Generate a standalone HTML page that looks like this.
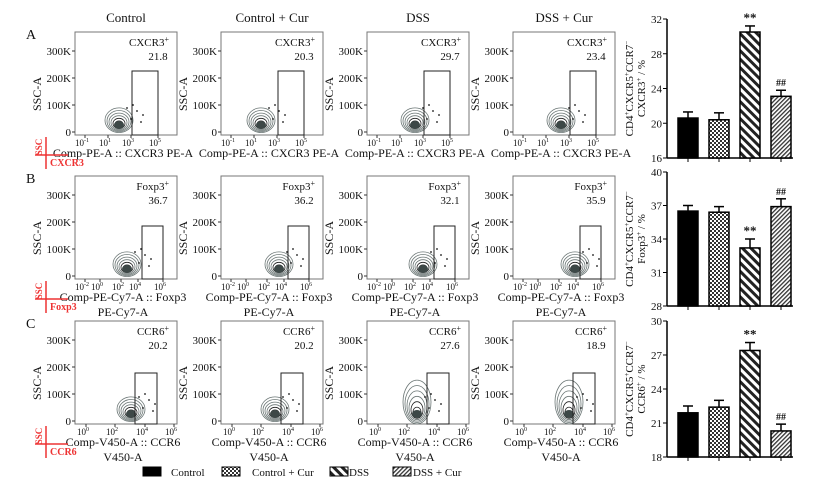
<!DOCTYPE html>
<html><head><meta charset="utf-8"><style>
body{margin:0;background:#fff}
svg text{font-family:"Liberation Serif",serif;fill:#111}
</style></head><body>
<svg id="fig" width="818" height="480" viewBox="0 0 818 480" xmlns="http://www.w3.org/2000/svg">
<defs>
<pattern id="p-check" width="4" height="4" patternUnits="userSpaceOnUse"><rect width="4" height="4" fill="#fff"/><rect width="2" height="2" fill="#333"/><rect x="2" y="2" width="2" height="2" fill="#333"/></pattern>
<pattern id="p-dss" width="6" height="6" patternUnits="userSpaceOnUse" patternTransform="rotate(-45)"><rect width="6" height="6" fill="#fff"/><rect width="3" height="6" fill="#222"/></pattern>
<pattern id="p-dsscur" width="3" height="3" patternUnits="userSpaceOnUse" patternTransform="rotate(45)"><rect width="3" height="3" fill="#fff"/><rect width="1.3" height="3" fill="#333"/></pattern>
</defs>
<g id="flow"></g>
<g id="bars"></g>
<g id="legend"></g>
</svg>
<script>
const NS="http://www.w3.org/2000/svg";
const groups=["Control","Control + Cur","DSS","DSS + Cur"];
const markers=["CXCR3","Foxp3","CCR6"];
const flowPct=[[21.8,20.3,29.7,23.4],[36.7,36.2,32.1,35.9],[20.2,20.2,27.6,18.9]];
const barsA=[20.6,20.4,30.5,23.1];
const errA=[0.7,0.8,0.7,0.7];
const barsB=[36.5,36.4,33.2,36.9];
const errB=[0.5,0.5,0.8,0.7];
const barsC=[21.9,22.4,27.4,20.3];
const errC=[0.6,0.6,0.7,0.6];
const ticksA=[16,20,24,28,32];
const ticksB=[28,31,34,37,40];
const ticksC=[18,21,24,27,30];
const sigA=["","","**","##"],sigB=["","","**","##"],sigC=["","","**","##"];

function el(t,a,p){const e=document.createElementNS(NS,t);for(const k in a)e.setAttribute(k,a[k]);(p||document.getElementById('fig')).appendChild(e);return e;}
function tx(x,y,s,a,p){const e=el('text',Object.assign({x:x,y:y},a||{}),p);e.innerHTML=s;return e;}

const flow=document.getElementById('flow');
const colX=[75,221,367,513],rowY=[32,176,321],W=102,H=103;
const sup=s=>"10<tspan dy='-4' font-size='6'>"+s+"</tspan>";
const xt=[[[sup("-1"),7],[sup("1"),30],[sup("3"),53],[sup("5"),80]],
[[sup("-2"),7],[sup("0"),22],[sup("2"),43],[sup("4"),60],[sup("6"),85]],
[[sup("0"),8],[sup("2"),37],[sup("4"),67],[sup("6"),96]]];
const gates=[[57,83,39],[67,88,50],[60,82,52]];
const cx=[[44,40,48,48],[52,58,56,62],[56,54,50,56]];
const xlab=[["Comp-PE-A :: CXCR3 PE-A"],["Comp-PE-Cy7-A :: Foxp3","PE-Cy7-A"],["Comp-V450-A :: CCR6","V450-A"]];
groups.forEach((g,c)=>{const t=tx(colX[c]+51,22,g,{'font-size':13,'text-anchor':'middle'},flow);
});
["A","B","C"].forEach((L,r)=>{const t=tx(26,rowY[r]+7,L,{'font-size':14},flow);});
for(let r=0;r<3;r++)for(let c=0;c<4;c++){
 const x0=colX[c],y0=rowY[r];
 const g=el('g',{},flow);
 
 
 el('rect',{x:x0,y:y0,width:W,height:H,fill:'#fff',stroke:'#777','stroke-width':1},g);
 const yl=[["300K",300],["200K",200],["100K",100],["0",0]];
 yl.forEach(([s,v])=>{const y=y0+H-3-v*0.27;el('line',{x1:x0-3,x2:x0,y1:y,y2:y,stroke:'#333'},g);tx(x0-4,y+4,s,{'font-size':11,'text-anchor':'end'},g);});
 tx(x0-34,y0+62,"SSC-A",{'font-size':12,'text-anchor':'middle',transform:`rotate(-90 ${x0-34} ${y0+62})`},g);
 xt[r].forEach(([s,o])=>{tx(x0+o,y0+H+11,s,{'font-size':9,'text-anchor':'middle'},g);el('line',{x1:x0+o+3,x2:x0+o+3,y1:y0+H,y2:y0+H+3,stroke:'#333'},g);});
 const tall=(r==2&&c>=2);
 const ccx=x0+cx[r][c],ccy=y0+H-10;
 for(let k=6;k>=1;k--){el('ellipse',{cx:ccx,cy:ccy-k*(tall?2:0.8),rx:2+k*2,ry:1.5+k*(tall?3.4:1.8),fill:'none',stroke:k<3?'#222':'#6b7675','stroke-width':0.8},g);}
 el('ellipse',{cx:ccx,cy:ccy,rx:5,ry:4,fill:'#3d4847'},g);
 const dots=[[12,-6],[18,-14],[22,-3],[14,-20],[24,-10],[8,-17]];
 dots.forEach(d=>el('circle',{cx:ccx+d[0],cy:ccy+d[1],r:0.9,fill:'#111'},g));
 const gt=gates[r];
 el('rect',{x:x0+gt[0],y:y0+gt[2],width:gt[1]-gt[0],height:H-gt[2],fill:'none',stroke:'#222','stroke-width':1},g);
 tx(x0+W-8,y0+14,markers[r]+"<tspan dy='-4' font-size='8'>+</tspan>",{'font-size':11,'text-anchor':'end'},g);
 tx(x0+W-19,y0+28,flowPct[r][c].toFixed(1),{'font-size':11,'text-anchor':'middle'},g);
 xlab[r].forEach((s,i)=>tx(x0+48,y0+H+22+i*15,s,{'font-size':12,'text-anchor':'middle'},g));
}
[0,1,2].forEach(r=>{const y=rowY[r]+H+18;const g=el('g',{},flow);
 
 el('line',{x1:46,x2:46,y1:y-16,y2:y+16,stroke:'#e33','stroke-width':1.5},g);
 el('line',{x1:35,x2:68,y1:y+2,y2:y+2,stroke:'#e33','stroke-width':1.5},g);
 const t=tx(42,y-6,"SSC",{'font-size':9,'font-weight':'bold','text-anchor':'middle',transform:`rotate(-90 42 ${y-6})`},g);t.style.fill='#e33';
 const t2=tx(50,y+13,markers[r],{'font-size':10,'font-weight':'bold'},g);t2.style.fill='#e33';});

const bars=document.getElementById('bars');
const fills=['#000','url(#p-check)','url(#p-dss)','url(#p-dsscur)'];
const barX=[678,709,740,771],BW=20,AX=667;
const charts=[{v:barsA,e:errA,t:ticksA,s:sigA,top:19,bot:158,lab:"CXCR3"},{v:barsB,e:errB,t:ticksB,s:sigB,top:172,bot:306,lab:"Foxp3"},{v:barsC,e:errC,t:ticksC,s:sigC,top:321,bot:457,lab:"CCR6"}];
charts.forEach((ch,i)=>{
 const g=el('g',{},bars);
 
 
 const lo=ch.t[0],hi=ch.t[ch.t.length-1];
 const ys=v=>ch.bot-(v-lo)/(hi-lo)*(ch.bot-ch.top);
 el('line',{x1:AX,x2:AX,y1:ch.top,y2:ch.bot,stroke:'#000','stroke-width':1.5},g);
 el('line',{x1:AX,x2:793,y1:ch.bot,y2:ch.bot,stroke:'#000','stroke-width':1.5},g);
 ch.t.forEach(t=>{const y=ys(t);el('line',{x1:AX-4,x2:AX,y1:y,y2:y,stroke:'#000'},g);tx(AX-5,y+4,t,{'font-size':11,'text-anchor':'end'},g);});
 ch.v.forEach((v,k)=>{
  const cxm=barX[k]+BW/2;
  el('line',{x1:cxm,x2:cxm,y1:ch.bot,y2:ch.bot+4,stroke:'#000'},g);
  const ye=ys(v+ch.e[k]);
  el('line',{x1:cxm,x2:cxm,y1:ys(v),y2:ye,stroke:'#000','stroke-width':1.5},g);
  el('line',{x1:cxm-5,x2:cxm+5,y1:ye,y2:ye,stroke:'#000','stroke-width':1.5},g);
  const b=el('rect',{x:barX[k],y:ys(v),width:BW,height:ch.bot-ys(v),fill:fills[k],stroke:'#000','stroke-width':1.5},g);
  
  
  if(ch.s[k])tx(cxm,ye-4,ch.s[k],{'font-size':ch.s[k]=="**"?13:10,'text-anchor':'middle','font-weight':'bold'},g);
 });
 const my=(ch.top+ch.bot)/2;
 tx(633,my,"CD4<tspan dy='-4' font-size='7'>+</tspan><tspan dy='4'>CXCR5</tspan><tspan dy='-4' font-size='7'>+</tspan><tspan dy='4'>CCR7</tspan><tspan dy='-4' font-size='7'>−</tspan>",{'font-size':11,'text-anchor':'middle',transform:`rotate(-90 633 ${my})`},g);
 tx(645,my,ch.lab+"<tspan dy='-4' font-size='7'>+</tspan><tspan dy='4'> / %</tspan>",{'font-size':11,'text-anchor':'middle',transform:`rotate(-90 645 ${my})`},g);
});

const lg=document.getElementById('legend');


const lx=[143,222,330,393],tx0=[171,252,349,413];
groups.forEach((gname,k)=>{
 const g=el('g',{},lg);
 
 
 el('rect',{x:lx[k],y:467,width:18,height:9,fill:fills[k],stroke:'#000'},g);
 tx(tx0[k],476,gname,{'font-size':11},g);
});
</script>
</body></html>
